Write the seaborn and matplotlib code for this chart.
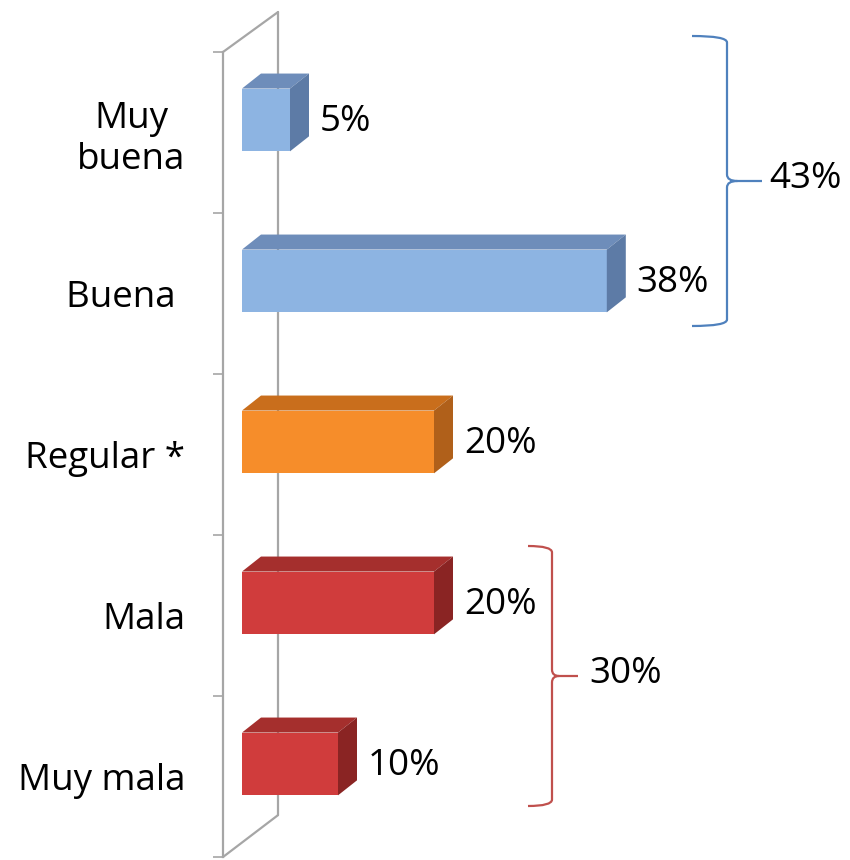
import numpy as np
import pandas as pd
import matplotlib
matplotlib.use("Agg")
import matplotlib.pyplot as plt
from matplotlib.patches import Polygon
from matplotlib.path import Path
from matplotlib.patches import PathPatch
import seaborn as sns

categories = ["Muy\nbuena", "Buena ", "Regular *", "Mala", "Muy mala"]
values     = [5, 38, 20, 20, 10]
front_cols = ["#8DB4E2", "#8DB4E2", "#F68D2A", "#D03C3C", "#D03C3C"]
top_cols   = ["#6E8DBA", "#6E8DBA", "#C96E1C", "#A52F2D", "#A52F2D"]
side_cols  = ["#5D7BA6", "#5D7BA6", "#B0601A", "#8A2423", "#8A2423"]

groups = [  # (label, colour)
    ("43%", "#4F81BD"),
    ("30%", "#C0504D"),
]

sns.set_theme(style="white")
plt.rcParams["font.family"] = ["Open Sans", "DejaVu Sans"]
plt.rcParams["text.color"] = "black"
plt.rcParams["ytick.labelcolor"] = "black"

W, H = 850, 860
PX = 9.6      # pixels per percent
PY = 161.0    # pixels per category
FS = 26.5

df = pd.DataFrame({"cat": categories, "val": values})

fig = plt.figure(figsize=(W / 100, H / 100), dpi=100)
ax = fig.add_axes([223 / W, 3 / H, (W - 223) / W, 805 / H])

sns.barplot(data=df, y="cat", x="val", hue="cat", palette=front_cols,
            saturation=1, orient="h", width=0.39, legend=False, ax=ax,
            linewidth=0, zorder=3)

ax.set_xlim(-19 / PX, (W - 242) / PX)
ax.set_ylim(4.5, -0.5)

# 3D look: top and side faces
dx, dy = 19 / PX, -15 / PY
for i, p in enumerate(ax.patches):
    p.set_y(p.get_y() - 0.078)
    x0, y0 = p.get_x(), p.get_y()
    w, h = p.get_width(), p.get_height()
    top = Polygon([(x0, y0), (x0 + dx, y0 + dy), (x0 + w + dx, y0 + dy), (x0 + w, y0)],
                  closed=True, facecolor=top_cols[i], edgecolor="none", zorder=3)
    side = Polygon([(x0 + w, y0), (x0 + w + dx, y0 + dy), (x0 + w + dx, y0 + h + dy), (x0 + w, y0 + h)],
                   closed=True, facecolor=side_cols[i], edgecolor="none", zorder=3)
    ax.add_patch(top)
    ax.add_patch(side)
    ax.text(x0 + w + dx + 11 / PX, y0 + h / 2 + 0.01, f"{values[i]}%",
            fontsize=FS, va="center", ha="left", color="black")

# walls
gray = "#A6A6A6"
xf, xb = ax.get_xlim()[0], 36 / PX
ax.plot([xb, xb], [-0.748, 4.24], color=gray, lw=1.6, zorder=1, clip_on=False)
ax.plot([xf, xb], [-0.5, -0.748], color=gray, lw=1.6, zorder=1, clip_on=False)
ax.plot([xf, xb], [4.5, 4.24], color=gray, lw=1.6, zorder=1, clip_on=False)

for s in ["top", "right", "bottom"]:
    ax.spines[s].set_visible(False)
ax.spines["left"].set_color(gray)
ax.spines["left"].set_linewidth(1.6)
ax.set_xticks([])
ax.set_xlabel("")
ax.set_ylabel("")
ax.set_yticks(np.arange(-0.5, 5.0, 1.0), minor=True)
ax.tick_params(axis="y", which="minor", length=7.5, width=1.2, color=gray, left=True)
ax.tick_params(axis="y", which="major", length=0, pad=27, labelsize=FS, labelcolor="black")
for lbl in ax.get_yticklabels():
    lbl.set_multialignment("center")


def brace(ax, x_left, x_mid, x_tip, y_top, y_bot, color):
    ym = (y_top + y_bot) / 2
    cx = (x_mid - x_left)
    verts = [
        (x_left, y_top), (x_mid, y_top), (x_mid, y_top + 0.04),
        (x_mid, ym - 0.04),
        (x_mid, ym), (x_mid + cx * 0.3, ym), (x_tip, ym),
        (x_mid + cx * 0.3, ym), (x_mid, ym), (x_mid, ym + 0.04),
        (x_mid, y_bot - 0.04),
        (x_mid, y_bot), (x_left, y_bot),
    ]
    codes = [Path.MOVETO, Path.CURVE3, Path.CURVE3, Path.LINETO,
             Path.CURVE3, Path.CURVE3, Path.LINETO,
             Path.MOVETO, Path.CURVE3, Path.CURVE3, Path.LINETO,
             Path.CURVE3, Path.CURVE3]
    ax.add_patch(PathPatch(Path(verts, codes), facecolor="none", edgecolor=color,
                           lw=1.6, clip_on=False, zorder=4))
    return ym


def py(pix):
    return (pix - 52) / PY - 0.5


def pxx(pix):
    return (pix - 242) / PX


ym = brace(ax, pxx(692), pxx(727), pxx(762), py(36), py(326), groups[0][1])
ax.text(pxx(769), ym - 0.01, groups[0][0], fontsize=FS, va="center", ha="left", clip_on=False)
ym = brace(ax, pxx(528), pxx(552), pxx(578), py(546), py(806), groups[1][1])
ax.text(pxx(589), ym - 0.01, groups[1][0], fontsize=FS, va="center", ha="left", clip_on=False)

fig.savefig("out.png", dpi=100, facecolor="white")
